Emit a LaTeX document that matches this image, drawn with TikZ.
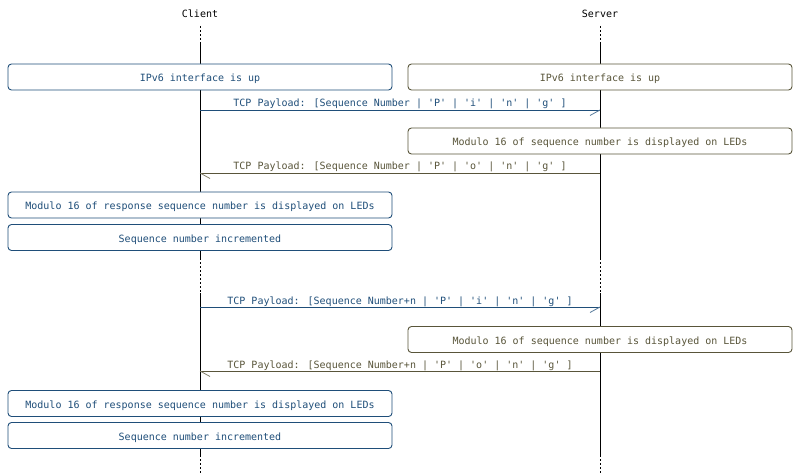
\documentclass[tikz,border=0pt]{standalone}
\usepackage{fontspec}
\newfontfamily\monof{DejaVu Sans Mono}
\definecolor{cblue}{HTML}{1F4E79}
\definecolor{colive}{HTML}{59553A}
\begin{document}
\begin{tikzpicture}[x=1pt,y=-1pt,
  every node/.style={font=\monof\fontsize{10}{12}\selectfont, inner sep=0pt},
  actor/.style={text=black},
  life/.style={draw=black, line width=0.8pt},
  lifedot/.style={draw=black, line width=0.8pt, dash pattern=on 2pt off 2pt},
  cbox/.style={draw=cblue, text=cblue, fill=white, rounded corners=3.5pt, line width=0.9pt, minimum width=384pt, minimum height=26pt, text height=11.5pt, text depth=2.3pt},
  sbox/.style={draw=colive, text=colive, fill=white, rounded corners=3.5pt, line width=0.9pt, minimum width=384pt, minimum height=26pt, text height=11.5pt, text depth=2.3pt},
  cmsg/.style={draw=cblue, line width=0.9pt},
  smsg/.style={draw=colive, line width=0.9pt},
  cbarb/.style={draw=cblue!75, line width=0.8pt},
  sbarb/.style={draw=colive!75, line width=0.8pt},
  clab/.style={text=cblue, anchor=base},
  slab/.style={text=colive, anchor=base}]
\useasboundingbox (0,0) rectangle (800,473);
% actors
\node[actor] (client) at (200,14) {Client};
\node[actor] (server) at (600,14) {Server};
% lifeline coordinates
\coordinate (ca) at (200,26); \coordinate (cb) at (200,44);
\coordinate (cc) at (200,258); \coordinate (cd) at (200,293);
\coordinate (ce) at (200,455); \coordinate (cf) at (200,473);
\coordinate (sa) at (600,26); \coordinate (sb) at (600,44);
\coordinate (sc) at (600,258); \coordinate (sd) at (600,293);
\coordinate (se) at (600,455); \coordinate (sf) at (600,473);
\draw[lifedot] (ca) -- (cb); \draw[life] (cb) -- (cc); \draw[lifedot] (cc) -- (cd);
\draw[life] (cd) -- (ce); \draw[lifedot] (ce) -- (cf);
\draw[lifedot] (sa) -- (sb); \draw[life] (sb) -- (sc); \draw[lifedot] (sc) -- (sd);
\draw[life] (sd) -- (se); \draw[lifedot] (se) -- (sf);
% boxes
\node[cbox] (c1) at (200,77) {IPv6 interface is up};
\node[sbox] (s1) at (600,77) {IPv6 interface is up};
\node[sbox] (s2) at (600,141) {Modulo 16 of sequence number is displayed on LEDs};
\node[cbox] (c2) at (200,205) {Modulo 16 of response sequence number is displayed on LEDs};
\node[cbox] (c3) at (200,237.5) {Sequence number incremented};
\node[sbox] (s3) at (600,339.5) {Modulo 16 of sequence number is displayed on LEDs};
\node[cbox] (c4) at (200,403.5) {Modulo 16 of response sequence number is displayed on LEDs};
\node[cbox] (c5) at (200,435.5) {Sequence number incremented};
% messages
\coordinate (m1c) at (200,110); \coordinate (m1s) at (600,110);
\draw[cmsg] (m1c) -- (m1s);
\draw[cbarb] (m1s) -- ++(-10,5.5);
\node[clab] (l1) at (400,107) {TCP Payload: [Sequence Number | 'P' | 'i' | 'n' | 'g' ]};
\coordinate (m2c) at (200,173); \coordinate (m2s) at (600,173);
\draw[smsg] (m2s) -- (m2c);
\draw[sbarb] (m2c) -- ++(10,5.5);
\node[slab] (l2) at (400,170) {TCP Payload: [Sequence Number | 'P' | 'o' | 'n' | 'g' ]};
\coordinate (m3c) at (200,307); \coordinate (m3s) at (600,307);
\draw[cmsg] (m3c) -- (m3s);
\draw[cbarb] (m3s) -- ++(-10,5.5);
\node[clab] (l3) at (400,304) {TCP Payload: [Sequence Number+n | 'P' | 'i' | 'n' | 'g' ]};
\coordinate (m4c) at (200,371); \coordinate (m4s) at (600,371);
\draw[smsg] (m4s) -- (m4c);
\draw[sbarb] (m4c) -- ++(10,5.5);
\node[slab] (l4) at (400,368) {TCP Payload: [Sequence Number+n | 'P' | 'o' | 'n' | 'g' ]};
\end{tikzpicture}
\end{document}
